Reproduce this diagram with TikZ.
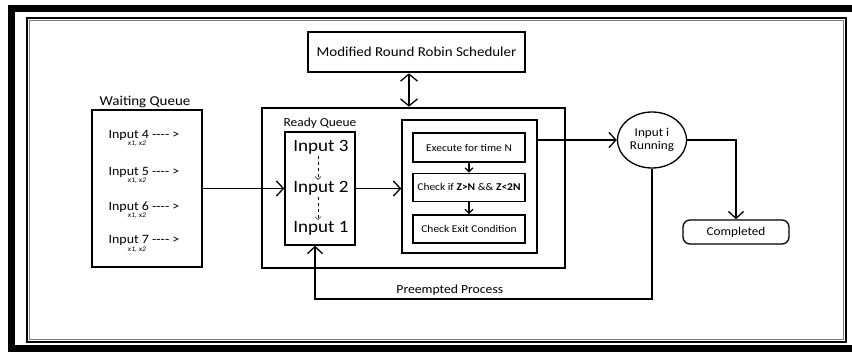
\documentclass[tikz,border=0pt]{standalone}
\usepackage{fontspec}
\setmainfont{Carlito}[FakeStretch=1.1]
\usetikzlibrary{positioning,arrows.meta,shapes.geometric}

\newcommand{\fsz}[1]{\fontsize{#1}{#1}\selectfont}

\begin{document}
\begin{tikzpicture}[x=1pt,y=-1pt,text centered,inner sep=0pt]
    \tikzstyle{box}=[draw,line width=1.4pt]
    \tikzstyle{bigbox}=[draw,line width=2.6pt]
    \tikzstyle{arr}=[-{Straight Barb[length=7pt,width=15pt]},line width=1.3pt]
    \tikzstyle{smallarr}=[-{Straight Barb[length=4pt,width=8pt]},line width=1.3pt]
    \tikzstyle{sub}=[font=\fsz{7}\itshape]
    \useasboundingbox (0,0) rectangle (852,351);
    \clip (0,0) rectangle (852,351);

    % frame
    \draw[line width=7pt] (11.5,8.5) rectangle (856,348);
    \draw[line width=1.5pt] (27,18) rectangle (846,342);
    \draw[gray,line width=0.8pt] (29.5,20.5) rectangle (843.5,339.5);

    % scheduler
    \node[bigbox,minimum width=217pt,minimum height=40pt] (sched) at (416.5,52) {\fsz{13.6}Modified Round Robin Scheduler};
    \node[bigbox,minimum width=303pt,minimum height=160pt] (main) at (413.5,188) {};

    % waiting queue
    \node (wlabel) at (145,102) {\fsz{13.6}Waiting Queue};
    \node[bigbox,minimum width=110pt,minimum height=157pt] (wq) at (147,188.5) {};
    \node (w4) at (144,135) {\fsz{12.7}Input 4 {-}{-}{-}{-} >};
    \node (w5) at (144,172) {\fsz{12.7}Input 5 {-}{-}{-}{-} >};
    \node (w6) at (144,207) {\fsz{12.7}Input 6 {-}{-}{-}{-} >};
    \node (w7) at (144,240) {\fsz{12.7}Input 7 {-}{-}{-}{-} >};
    \node[sub] (x4) at (137,144) {x1, x2};
    \node[sub] (x5) at (137,181) {x1, x2};
    \node[sub] (x6) at (137,216) {x1, x2};
    \node[sub] (x7) at (137,250) {x1, x2};

    % ready queue
    \node (rlabel) at (320,123) {\fsz{12.2}Ready Queue};
    \node[box,minimum width=70pt,minimum height=113pt] (rq) at (320,188.5) {};
    \node (r3) at (321,147) {\fsz{17.3}Input 3};
    \node (r2) at (321,188) {\fsz{17.3}Input 2};
    \node (r1) at (321,228) {\fsz{17.3}Input 1};
    \draw[dashed,thin,-{Straight Barb[length=3pt,width=6pt]}] ([xshift=-3pt,yshift=-2pt]r3.south) -- ([xshift=-3pt,yshift=1pt]r2.north);
    \draw[dashed,thin,-{Straight Barb[length=3pt,width=6pt]}] ([xshift=-3pt,yshift=-2pt]r2.south) -- ([xshift=-3pt,yshift=1pt]r1.north);

    % process
    \node[box,minimum width=135pt,minimum height=133pt] (proc) at (469.5,186.5) {};
    \node[box,minimum width=112pt,minimum height=29pt] (exec) at (469,147.5) {\fsz{10.4}Execute for time N};
    \node[box,minimum width=112pt,minimum height=28pt,below=10pt of exec] (chk) {\fsz{10.4}Check if \textbf{Z>N} \&\& \textbf{Z<2N}};
    \node[box,minimum width=112pt,minimum height=28pt,below=12pt of chk] (exit) {\fsz{10.4}Check Exit Condition};

    % running and completed
    \node[draw,ellipse,line width=1.3pt,minimum width=69pt,minimum height=56pt,align=center,font=\fontsize{12}{13}\selectfont] (run) at (652,140) {Input i\\Running};
    \node[draw,rounded corners=7pt,line width=1.3pt,minimum width=106pt,minimum height=24pt] (done) at (736,232) {\fsz{12}Completed};
    \coordinate (dbl) at (409,90);
    \coordinate (pre) at (315,299);

    \draw[arr,{Straight Barb[length=7pt,width=17pt]}-{Straight Barb[length=7pt,width=17pt]}] (sched.south -| dbl) -- (main.north -| dbl);
    \draw[arr] (wq.east) -- (wq.east -| rq.west);
    \draw[arr] (rq.east) -- (rq.east -| proc.west);
    \draw[smallarr] (exec) -- (chk);
    \draw[smallarr] (chk) -- (exit);
    \draw[arr] (proc.east |- run.west) -- (run.west);
    \draw[arr] (run.east) -| (done.north);
    \draw[arr] (run.south) |- node[above=3pt,pos=0.8] {\fsz{12.4}Preempted Process} (pre) -- (pre |- rq.south);
\end{tikzpicture}
\end{document}
